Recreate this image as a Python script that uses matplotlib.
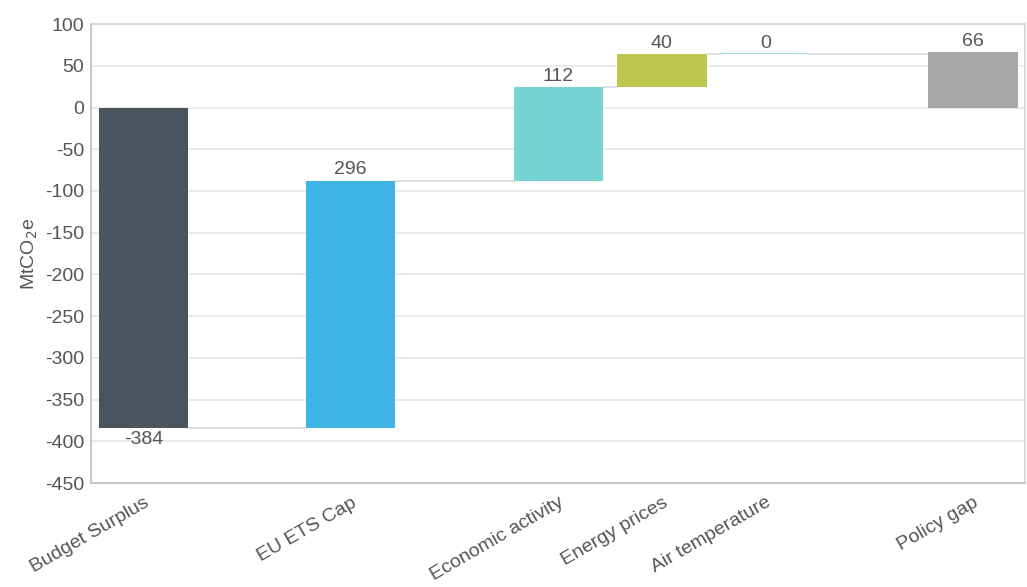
import numpy as np
import matplotlib.pyplot as plt

plt.rcParams['font.family'] = ['Liberation Sans', 'DejaVu Sans']
plt.rcParams['axes.unicode_minus'] = False

# waterfall steps (MtCO2e); positions leave gaps between groups
labels = ['Budget Surplus', 'EU ETS Cap', 'Economic activity', 'Energy prices',
          'Air temperature', 'Policy gap']
deltas = [-384, 296, 112, 40, 0, 66]
positions = [0, 2, 4, 5, 6, 8]
colors = ['#4a5560', '#41b4e6', '#76d5d3', '#bfc650', '#9fd8ee', '#a8a8a8']
is_total = [False, False, False, False, False, True]

# running totals for bar bottoms
bottoms = []
level = 0
for d, tot in zip(deltas, is_total):
    if tot:
        bottoms.append(0)
    else:
        bottoms.append(level)
        level += d
tops = [b + d for b, d in zip(bottoms, deltas)]

fig, ax = plt.subplots(figsize=(10.27, 5.87), dpi=100)
fig.subplots_adjust(left=0.089, right=0.998, top=0.959, bottom=0.177)

width = 0.86
for x, b, d, c in zip(positions, bottoms, deltas, colors):
    h = d if d != 0 else 1.2
    ax.bar(x, h, bottom=b, width=width, color=c, edgecolor='none', zorder=3)

# connector lines between consecutive bars
for i in range(len(positions) - 1):
    end = tops[i]
    ax.plot([positions[i] + width / 2, positions[i + 1] - width / 2], [end, end],
            color='#d9d9d9', lw=1.2, zorder=2)

fs = 14
for x, b, t, d in zip(positions, bottoms, tops, deltas):
    if d < 0:
        ax.text(x, t - 3, f'{d}', ha='center', va='top', fontsize=fs, color='#555555')
    else:
        ax.text(x, t + 3, f'{d}', ha='center', va='bottom', fontsize=fs, color='#555555')

ax.set_xlim(-0.5, 8.5)
ax.set_ylim(-450, 100)
ax.set_yticks(np.arange(-450, 101, 50))
ax.set_xticks(positions)
ax.set_xticklabels(labels, rotation=30, ha='right', rotation_mode='anchor')
ax.tick_params(axis='both', length=0, labelsize=fs, labelcolor='#555555')
ax.tick_params(axis='x', pad=8)
ax.tick_params(axis='y', pad=5)
ax.grid(axis='y', color='#e6e6e6', lw=1.2, zorder=0)
for side in ['left', 'bottom']:
    ax.spines[side].set_color('#c8c8c8')
    ax.spines[side].set_linewidth(1.5)
for side in ['top', 'right']:
    ax.spines[side].set_color('#d6d6d6')
    ax.spines[side].set_linewidth(1.2)
ax.set_ylabel('MtCO$_2$e', fontsize=fs, color='#555555', labelpad=4)

fig.savefig('out.png', dpi=100)
